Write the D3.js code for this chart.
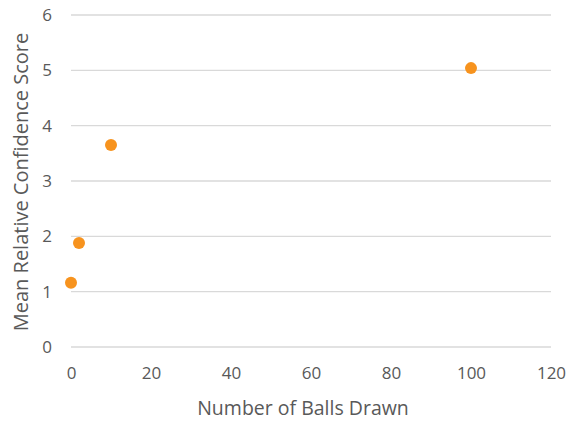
<!DOCTYPE html>
<html>
<head>
<meta charset="utf-8">
<script src="https://cdnjs.cloudflare.com/ajax/libs/d3/7.8.5/d3.min.js"></script>
<style>
  body { margin: 0; background: #fff; }
  text { font-family: "Open Sans", sans-serif; fill: #595959; }
</style>
</head>
<body>
<script>
// data
var ballsDrawn = [0, 2, 10, 100];
var confidence = [1.16, 1.88, 3.65, 5.04];
var xTicks = [0, 20, 40, 60, 80, 100, 120];
var yTicks = [0, 1, 2, 3, 4, 5, 6];

var W = 578, H = 426;
var margin = { top: 15, right: 27, bottom: 79, left: 71 };
var width = W - margin.left - margin.right,
  height = H - margin.top - margin.bottom;

var svg = d3.select("body").append("svg")
  .attr("width", W)
  .attr("height", H);

var g = svg.append("g")
  .attr("transform", "translate(" + margin.left + "," + margin.top + ")");

var x = d3.scaleLinear().domain([0, 120]).range([0, width]);
var y = d3.scaleLinear().domain([0, 6]).range([height, 0]);

// horizontal gridlines
g.append("g")
  .selectAll("line")
  .data(yTicks)
  .enter()
  .append("line")
  .attr("x1", 0)
  .attr("x2", width)
  .attr("y1", function (d) { return y(d); })
  .attr("y2", function (d) { return y(d); })
  .style("stroke", "#d9d9d9")
  .style("stroke-width", 1.3);

var yAxis = d3.axisLeft(y).tickValues(yTicks).tickFormat(d3.format("d"))
  .tickSize(0).tickPadding(19);
g.append("g").attr("class", "y axis").call(yAxis)
  .call(function (a) { a.select(".domain").remove(); })
  .selectAll("text")
  .style("font-size", "17px")
  .style("fill", "#595959");

var xAxis = d3.axisBottom(x).tickValues(xTicks).tickFormat(d3.format("d"))
  .tickSize(0).tickPadding(20);
g.append("g").attr("class", "x axis")
  .attr("transform", "translate(0," + height + ")")
  .call(xAxis)
  .call(function (a) { a.select(".domain").remove(); })
  .selectAll("text")
  .style("font-size", "17px")
  .style("fill", "#595959");

// axis titles
svg.append("text")
  .attr("x", margin.left + width / 2 - 8)
  .attr("y", 415)
  .style("text-anchor", "middle")
  .style("font-size", "19.5px")
  .text("Number of Balls Drawn");

svg.append("text")
  .attr("transform", "translate(28," + (margin.top + height / 2 + 1) + ")rotate(-90)")
  .style("text-anchor", "middle")
  .style("font-size", "20px")
  .text("Mean Relative Confidence Score");

// points
g.selectAll(".dot")
  .data(ballsDrawn)
  .enter()
  .append("circle")
  .attr("class", "dot")
  .attr("cx", function (d) { return x(d); })
  .attr("cy", function (d, i) { return y(confidence[i]); })
  .attr("r", 6)
  .style("fill", "#f7931e");
</script>
</body>
</html>
